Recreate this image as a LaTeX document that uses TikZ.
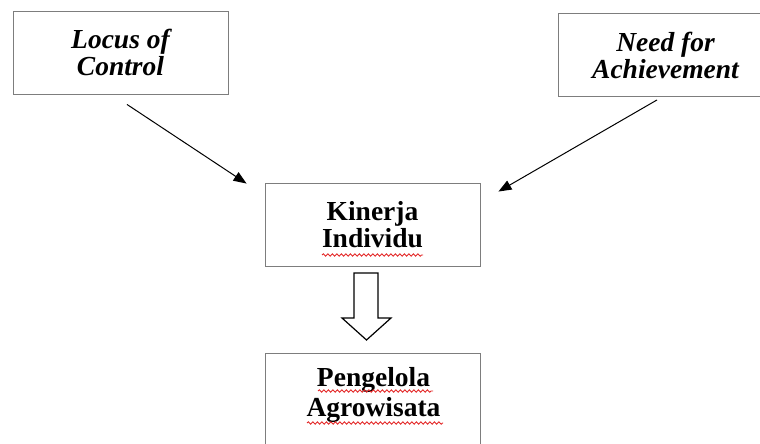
\documentclass[tikz,border=0pt]{standalone}
\usepackage{fontspec}
\setmainfont{Liberation Serif}
\usetikzlibrary{arrows.meta}
\usetikzlibrary{decorations.pathmorphing}
\definecolor{boxgray}{RGB}{125,125,125}
\definecolor{spellred}{RGB}{228,40,40}
\tikzset{
    box/.style={
        draw=boxgray, line width=0.9pt,
        minimum width=215pt, minimum height=83pt,
        align=center, inner sep=0pt,
        font=\fontsize{27.5}{27}\selectfont\bfseries
    },
    slant/.style={
        font=\fontsize{27.5}{27}\selectfont\bfseries\itshape
    },
    link/.style={
        line width=1pt, -{Triangle[length=13pt,width=10pt]}
    },
    hollow/.style={
        draw=black, line width=1.2pt, fill=white, line join=miter
    },
    squiggle/.style={
        spellred, line width=0.9pt,
        decoration={snake, amplitude=1.2pt, segment length=4.5pt},
        decorate
    }
}

\begin{document}
\begin{tikzpicture}[x=1pt, y=-1pt]
		\clip (0,0) rectangle (760,444);
		\fill[white] (0,0) rectangle (760,444);

		% Independent variables
		\node[box, slant] (locus) at (120.5,52.5) {Locus of\\Control};
		\node[box, slant] (need) at (665.5,55) {Need for\\Achievement};

		% Dependent variable and object
		\node[box] (kinerja) at (372.5,224.5) {Kinerja\\Individu};
		\node[box, draw=none, anchor=north, font=\fontsize{27.5}{29.5}\selectfont\bfseries] (agro) at (373.5,353) {Pengelola\\Agrowisata};
		\draw[boxgray, line width=0.9pt] (agro.north west) rectangle ++(215,120);

		% Influence arrows
		\draw[link] ([shift={(6.5,10)}]locus.south) -- ([shift={(-18,1)}]kinerja.north west);
		\draw[link] ([shift={(-8.5,3)}]need.south) -- ([shift={(18,9)}]kinerja.north east);

		% Block arrow down
		\draw[hollow] (354,273) -- (378,273) -- (378,318) -- (391,318) -- (366.5,340) -- (342,318) -- (354,318) -- cycle;

		% Spell check marks
		\draw[squiggle] (322,255) -- (423,255);
		\draw[squiggle] (318,391) -- (433,391);
		\draw[squiggle] (307,423) -- (443,423);
	\end{tikzpicture}
\end{document}
